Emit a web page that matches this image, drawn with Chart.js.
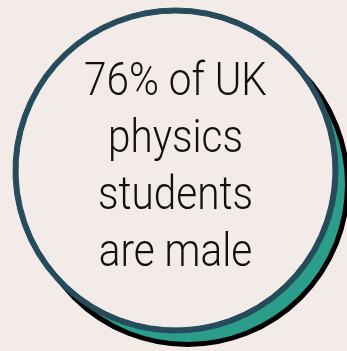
<!DOCTYPE html>
<html>
<head>
<meta charset="utf-8">
<script src="https://cdn.jsdelivr.net/npm/chart.js@4"></script>
<style>
  html, body { margin: 0; padding: 0; background: #f3ebe8; }
  #wrap { width: 347px; height: 351px; }
</style>
</head>
<body>
<div id="wrap"><canvas id="statCircle"></canvas></div>
<script>
// share of UK physics students
const labels = ['Male', 'Not male'];
const shares = [76, 24];
const textLines = ['76% of UK', 'physics', 'students', 'are male'];

const bgColor = '#f3ebe8';
const ringColor = '#264b5a';
const tealColor = '#2a9d8b';

// shadow behind the circle + the text inside it
const circlePlugin = {
  id: 'circleExtras',
  beforeDatasetsDraw(chart) {
    const arc = chart.getDatasetMeta(0).data[0];
    if (!arc) return;
    const { x, y, outerRadius } = arc.getProps(['x', 'y', 'outerRadius'], true);
    const ctx = chart.ctx;
    ctx.save();
    ctx.beginPath();
    ctx.arc(x + 12, y + 14, outerRadius - 2.5, 0, Math.PI * 2);
    ctx.fillStyle = tealColor;
    ctx.fill();
    ctx.lineWidth = 5;
    ctx.strokeStyle = '#000';
    ctx.stroke();
    ctx.restore();
  },
  afterDatasetsDraw(chart) {
    const arc = chart.getDatasetMeta(0).data[0];
    if (!arc) return;
    const { x, y } = arc.getProps(['x', 'y'], true);
    const ctx = chart.ctx;
    ctx.save();
    ctx.translate(x, 0);
    ctx.scale(0.88, 1); // condensed look
    ctx.font = '300 46px Roboto, sans-serif';
    ctx.fillStyle = '#111';
    ctx.textAlign = 'center';
    ctx.textBaseline = 'alphabetic';
    textLines.forEach((line, i) => {
      ctx.fillText(line, 0, y - 75.5 + i * 57);
    });
    ctx.restore();
  }
};

new Chart(document.getElementById('statCircle'), {
  type: 'pie',
  data: {
    labels,
    datasets: [
      {
        // outer ring = circle border
        data: shares,
        backgroundColor: [ringColor, ringColor],
        borderColor: ringColor,
        borderWidth: 1,
        weight: 5
      },
      {
        data: shares,
        backgroundColor: [bgColor, bgColor],
        borderColor: bgColor,
        borderWidth: 1,
        borderAlign: 'inner',
        weight: 158
      }
    ]
  },
  options: {
    responsive: true,
    maintainAspectRatio: false,
    animation: false,
    events: [],
    layout: { padding: { left: 12.5, right: 8.5, top: 7.5, bottom: 17.5 } },
    plugins: {
      legend: { display: false },
      tooltip: { enabled: false },
      title: { display: false }
    }
  },
  plugins: [circlePlugin]
});
</script>
</body>
</html>
